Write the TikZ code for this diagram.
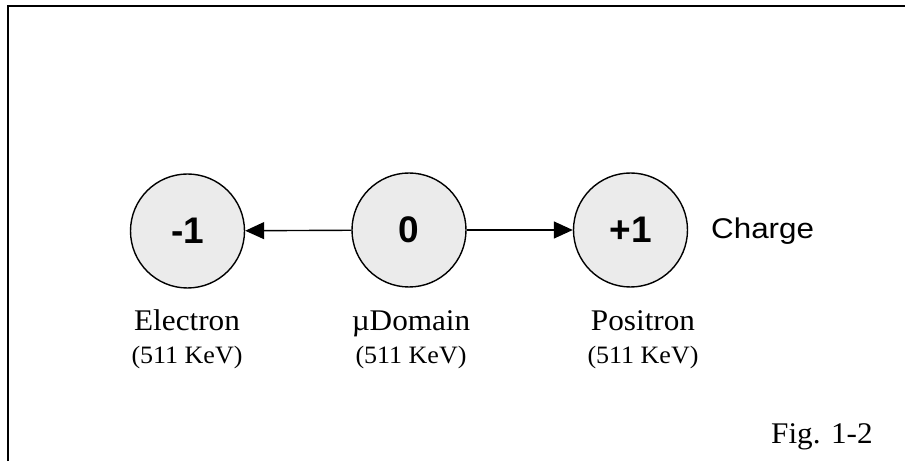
\documentclass[tikz,border=0pt]{standalone}
\usepackage{fontspec}
\usetikzlibrary{arrows.meta}
\newfontfamily\serifx[FakeStretch=1.04]{Liberation Serif}
\newfontfamily\sansx[FakeStretch=1.1]{Liberation Sans}
\newfontfamily\sansb{Liberation Sans}
\definecolor{circfill}{HTML}{EBEBEB}
\tikzset{
  chargecirc/.style={circle, draw=black, line width=1.4pt, fill=circfill, minimum size=114pt, inner sep=0pt,
                 font=\sansb\fontsize{37}{40}\selectfont\bfseries},
  arr/.style={line width=1.4pt, -{Triangle[length=19pt,width=17pt]}, shorten >=0pt},
  pname/.style={anchor=base, inner sep=0pt, font=\serifx\fontsize{30}{34}\selectfont},
  penergy/.style={anchor=base, inner sep=0pt, font=\serifx\fontsize{25}{29}\selectfont},
}
\begin{document}
\begin{tikzpicture}[x=1pt,y=1pt]
\useasboundingbox (0,0) rectangle (905,461);
\fill[white] (0,0) rectangle (905,461);
\draw[line width=2pt] (8,0) -- (8,455) -- (905,455);

\node[chargecirc] (A) at (187.5,230) {-1};
\node[chargecirc] (B) at (409,231) {0};
\node[chargecirc] (C) at (630.5,231) {+1};

\draw[arr] (B) -- (A);
\draw[arr] (B) -- (C);

\node[anchor=base west, inner sep=0pt, font=\sansx\fontsize{28.5}{32}\selectfont] (q) at (711,222) {Charge};

\node[pname] (n1) at (187,131) {Electron};
\node[penergy] (e1) at (187,98) {(511 KeV)};
\node[pname] (n2) at (411,131) {µDomain};
\node[penergy] (e2) at (411,98) {(511 KeV)};
\node[pname] (n3) at (643,131) {Positron};
\node[penergy] (e3) at (643,98) {(511 KeV)};

\node[anchor=base west, inner sep=0pt, font=\serifx\fontsize{30}{34}\selectfont] (fig) at (771,18) {Fig. 1-2};
\end{tikzpicture}
\end{document}
